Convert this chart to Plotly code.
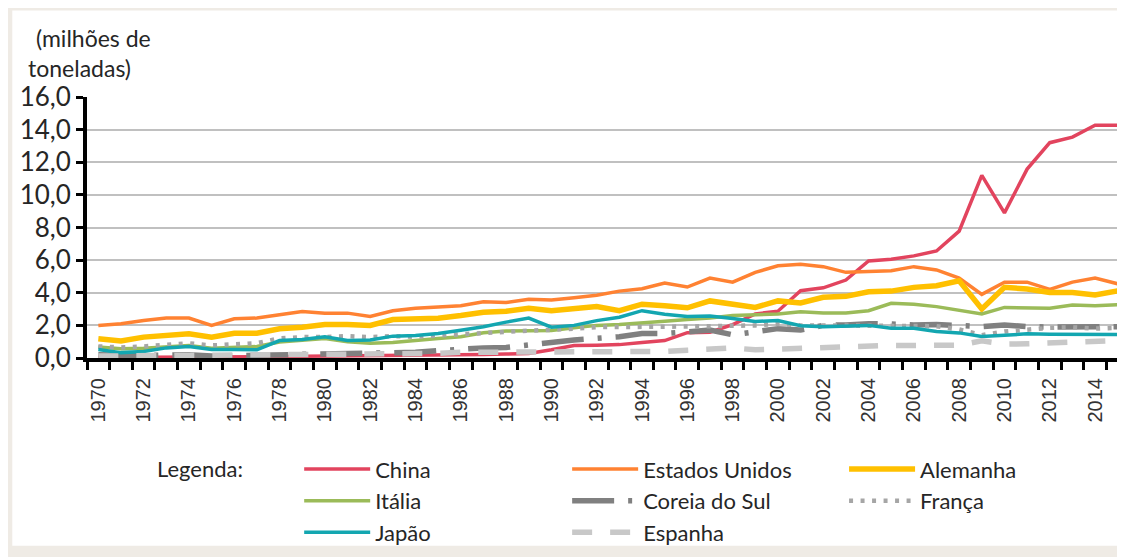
import plotly.graph_objects as go

years = list(range(1970, 2016))
label_years = [y for y in years if y % 2 == 0 and y <= 2014]

china = [0.03, 0.03, 0.04, 0.05, 0.06, 0.06, 0.07, 0.08, 0.09, 0.10,
         0.10, 0.12, 0.13, 0.15, 0.16, 0.18, 0.20, 0.22, 0.24, 0.28,
         0.50, 0.77, 0.78, 0.82, 0.95, 1.07, 1.55, 1.58, 2.05, 2.70,
         2.87, 4.12, 4.30, 4.78, 5.95, 6.05, 6.26, 6.56, 7.78, 11.20,
         8.90, 11.58, 13.20, 13.54, 14.27, 14.27]
eua = [2.00, 2.10, 2.30, 2.45, 2.45, 2.00, 2.40, 2.45, 2.65, 2.85,
       2.75, 2.75, 2.55, 2.90, 3.05, 3.15, 3.20, 3.45, 3.40, 3.60,
       3.55, 3.70, 3.85, 4.10, 4.25, 4.60, 4.35, 4.90, 4.65, 5.25,
       5.65, 5.75, 5.60, 5.25, 5.30, 5.35, 5.60, 5.40, 4.90, 3.90,
       4.65, 4.65, 4.20, 4.65, 4.90, 4.55]
alemanha = [1.18, 1.04, 1.28, 1.38, 1.48, 1.28, 1.52, 1.52, 1.79, 1.89,
            2.05, 2.05, 2.00, 2.36, 2.40, 2.44, 2.60, 2.80, 2.87, 3.05,
            2.90, 3.00, 3.15, 2.90, 3.30, 3.20, 3.08, 3.50, 3.30, 3.10,
            3.50, 3.37, 3.72, 3.78, 4.06, 4.10, 4.33, 4.43, 4.73, 3.00,
            4.33, 4.23, 4.02, 4.02, 3.86, 4.12]
italia = [0.67, 0.57, 0.60, 0.67, 0.77, 0.60, 0.67, 0.70, 0.98, 1.07,
          1.20, 1.00, 0.90, 0.95, 1.10, 1.20, 1.30, 1.55, 1.65, 1.68,
          1.68, 1.85, 2.00, 2.05, 2.13, 2.25, 2.36, 2.45, 2.60, 2.65,
          2.70, 2.84, 2.76, 2.76, 2.90, 3.35, 3.29, 3.15, 2.90, 2.70,
          3.10, 3.10, 3.05, 3.25, 3.20, 3.27]
coreia = [0.20, 0.15, 0.15, 0.18, 0.20, 0.12, 0.15, 0.18, 0.20, 0.22,
          0.22, 0.24, 0.27, 0.30, 0.35, 0.45, 0.55, 0.62, 0.65, 0.82,
          0.95, 1.10, 1.20, 1.30, 1.50, 1.50, 1.60, 1.72, 1.42, 1.65,
          1.80, 1.72, 2.00, 2.03, 2.10, 2.08, 2.02, 2.05, 2.00, 1.93,
          2.03, 1.92, 1.90, 1.90, 1.90, 1.92]
franca = [0.71, 0.65, 0.71, 0.81, 0.90, 0.77, 0.87, 0.91, 1.20, 1.28,
          1.28, 1.34, 1.28, 1.34, 1.30, 1.38, 1.48, 1.58, 1.62, 1.68,
          1.72, 1.80, 1.89, 1.90, 1.89, 1.90, 1.93, 1.95, 1.95, 2.00,
          2.09, 2.00, 2.00, 2.00, 2.00, 2.00, 2.00, 1.95, 1.75, 1.40,
          1.62, 1.72, 1.85, 1.88, 1.80, 1.85]
japao = [0.52, 0.33, 0.40, 0.62, 0.71, 0.52, 0.52, 0.50, 1.07, 1.13,
         1.30, 1.07, 1.11, 1.34, 1.38, 1.50, 1.70, 1.92, 2.20, 2.45,
         1.89, 2.00, 2.29, 2.50, 2.90, 2.68, 2.54, 2.58, 2.42, 2.24,
         2.30, 1.98, 1.92, 1.94, 2.00, 1.83, 1.83, 1.62, 1.54, 1.32,
         1.42, 1.48, 1.46, 1.44, 1.44, 1.44]
espanha = [0.12, 0.13, 0.17, 0.18, 0.18, 0.15, 0.13, 0.15, 0.16, 0.18,
           0.20, 0.18, 0.20, 0.20, 0.25, 0.28, 0.35, 0.35, 0.32, 0.35,
           0.40, 0.40, 0.40, 0.32, 0.35, 0.40, 0.48, 0.52, 0.62, 0.50,
           0.55, 0.65, 0.70, 0.72, 0.75, 0.77, 0.77, 0.78, 0.78, 1.05,
           0.85, 0.87, 0.90, 0.95, 1.00, 1.07]

series = [
    ("China", china, "#E2445E", 3.5, "solid", "legend"),
    ("Estados Unidos", eua, "#FF8232", 3.5, "solid", "legend2"),
    ("Alemanha", alemanha, "#FFC000", 5.5, "solid", "legend3"),
    ("Itália", italia, "#9BBB59", 3.5, "solid", "legend"),
    ("Coreia do Sul", coreia, "#808080", 5.5, "42px,14px,4px,14px", "legend2"),
    ("França", franca, "#A6A6A6", 4.5, "4px,7.5px", "legend3"),
    ("Japão", japao, "#13A6B0", 3.5, "solid", "legend"),
    ("Espanha", espanha, "#C8C8C8", 5.5, "20px,18px", "legend2"),
]

fig = go.Figure()
for name, vals, color, width, dash, leg in series:
    fig.add_trace(go.Scatter(
        x=years, y=vals, name=name, mode="lines",
        line=dict(color=color, width=width, dash=dash),
        legend=leg,
    ))

FONT = "Lato"
TXT = "#262626"

# page offset of the figure inside the browser (body margin)
OFF = 8
W, H = 1125, 557
L, T = 83 - OFF, 97 - OFF
R = W - (1120 - OFF)
B = H - (359.3 - OFF)
pw = W - L - R
ph = H - T - B


def px(xs):
    return (xs - OFF - L) / pw


def py(ys):
    return (H - B - (ys - OFF)) / ph


legend_common = dict(
    orientation="v", yanchor="top", xanchor="left",
    bgcolor="rgba(0,0,0,0)", font=dict(family=FONT, size=22, color=TXT),
    tracegroupgap=0, itemwidth=66, y=py(450),
)

fig.update_layout(
    width=W, height=H,
    margin=dict(l=L, r=R, t=T, b=B),
    paper_bgcolor="#EFEBE5",
    plot_bgcolor="white",
    separators=",.",
    showlegend=True,
    legend=dict(x=px(296), **legend_common),
    legend2=dict(x=px(565), **legend_common),
    legend3=dict(x=px(843), **legend_common),
    xaxis=dict(
        range=[1969.5, 2015.1],
        tickmode="array", tickvals=label_years, ticktext=[str(y) for y in label_years],
        tickangle=-90, ticks="outside", ticklen=8, tickcolor="rgba(0,0,0,0)",
        tickfont=dict(family="Liberation Sans", size=20, color="#333333"),
        showgrid=False, zeroline=False,
        showline=True, linecolor="black", linewidth=4,
        minor=dict(tick0=1969.5, dtick=1, ticks="outside", ticklen=8,
                   tickwidth=3, tickcolor="black", showgrid=False),
    ),
    yaxis=dict(
        range=[0, 16], dtick=2, tickformat=".1f",
        ticks="outside", ticklen=7, tickwidth=3, tickcolor="black",
        tickfont=dict(family=FONT, size=26, color=TXT),
        showgrid=True, gridcolor="#C0C0C0", gridwidth=2,
        zeroline=False, showline=True, linecolor="black", linewidth=4,
    ),
    shapes=[dict(type="rect", xref="paper", yref="paper",
                 x0=px(8), x1=px(1119), y0=py(548), y1=py(10),
                 fillcolor="white", line=dict(width=0), layer="below")],
    annotations=[
        dict(text="(milhões de", xref="paper", yref="paper", x=px(30), y=py(38),
             xanchor="left", yanchor="middle", showarrow=False,
             font=dict(family=FONT, size=23, color=TXT)),
        dict(text="toneladas)", xref="paper", yref="paper", x=px(22), y=py(68),
             xanchor="left", yanchor="middle", showarrow=False,
             font=dict(family=FONT, size=23, color=TXT)),
        dict(text="Legenda:", xref="paper", yref="paper", x=px(151), y=py(470),
             xanchor="left", yanchor="middle", showarrow=False,
             font=dict(family=FONT, size=22, color=TXT)),
    ],
)

fig.write_html("out.html")
